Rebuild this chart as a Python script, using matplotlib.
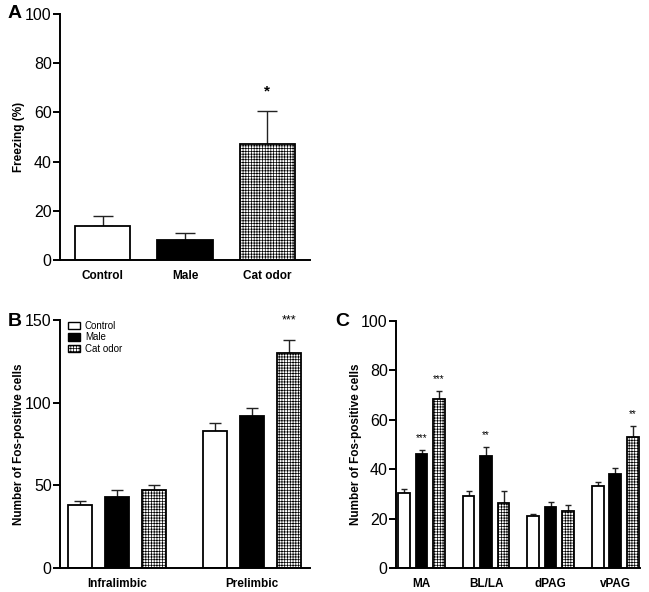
import matplotlib
matplotlib.use("Agg")
import matplotlib.pyplot as plt
import numpy as np
from matplotlib.patches import Patch

plt.rcParams['font.family'] = ['Liberation Sans', 'DejaVu Sans']
plt.rcParams['hatch.linewidth'] = 0.5
plt.rcParams['hatch.color'] = '#555555'

# Panel A
a_labels = ["Control", "Male", "Cat odor"]
a_vals = [14, 8, 47]
a_err = [3.8, 3.0, 13.5]
a_stars = ["", "", "*"]

# Panel B
b_groups = ["Infralimbic", "Prelimbic"]
b_control = [38, 83]
b_male = [43, 92]
b_cat = [47, 130]
b_control_err = [2.5, 4.5]
b_male_err = [4, 5]
b_cat_err = [3.5, 8]
b_stars_cat = ["", "***"]

# Panel C
c_groups = ["MA", "BL/LA", "dPAG", "vPAG"]
c_control = [30.5, 29, 21, 33]
c_male = [46, 45.5, 24.5, 38]
c_cat = [68.5, 26.5, 23, 53]
c_control_err = [1.6, 2.0, 1.0, 2.0]
c_male_err = [1.6, 3.6, 2.4, 2.3]
c_cat_err = [3.0, 4.6, 2.5, 4.5]
c_stars_male = ["***", "**", "", ""]
c_stars_cat = ["***", "", "", "**"]

legend_labels = ["Control", "Male", "Cat odor"]

styles = [dict(facecolor='white', edgecolor='black', hatch=None),
          dict(facecolor='black', edgecolor='black', hatch=None),
          dict(facecolor='white', edgecolor='black', hatch='++++++')]

fig = plt.figure(figsize=(6.49, 5.92), dpi=100)

def style_axes(ax):
    for s in ['top', 'right']:
        ax.spines[s].set_visible(False)
    for s in ['left', 'bottom']:
        ax.spines[s].set_linewidth(1.4)
    ax.tick_params(axis='y', direction='out', length=5, width=1.4, labelsize=11.5, pad=1)
    ax.tick_params(axis='x', length=0, labelsize=8.5, pad=7)
    for t in ax.get_xticklabels():
        t.set_fontweight('bold')
    ax.yaxis.set_label_coords(-0.14, 0.5)

def draw_bar(ax, x, v, e, w, st, capsize):
    ax.bar(x, v, width=w, linewidth=1.3, **st, zorder=2)
    ax.errorbar(x, v, yerr=[[0], [e]], fmt='none', ecolor='#222222', elinewidth=1.0,
                capsize=capsize, capthick=1.0, zorder=1)

# ---- A
axA = fig.add_axes([60/649, 1-260/592, 250/649, 246/592])
for i in range(3):
    draw_bar(axA, i, a_vals[i], a_err[i], 0.67, styles[i], 7)
    if a_stars[i]:
        axA.text(i, a_vals[i] + a_err[i] + 8, a_stars[i], ha='center', va='center', fontsize=11, fontweight='bold')
axA.set_xlim(-0.518, 2.518)
axA.set_ylim(0, 100)
axA.set_yticks([0, 20, 40, 60, 80, 100])
axA.set_xticks(range(3))
axA.set_xticklabels(a_labels)
axA.set_ylabel("Freezing (%)", fontsize=8.5, fontweight='bold')
style_axes(axA)
fig.text(8/649, 1-13/592, "A", fontsize=14, fontweight='bold', va='center')

# ---- B
axB = fig.add_axes([60/649, 1-568/592, 250/649, 248/592])
gsep = 3.66
series_b = [(b_control, b_control_err), (b_male, b_male_err), (b_cat, b_cat_err)]
for g in range(2):
    for k, (vals, errs) in enumerate(series_b):
        x = g*gsep + (k-1)
        draw_bar(axB, x, vals[g], errs[g], 0.65, styles[k], 4)
    if b_stars_cat[g]:
        axB.text(g*gsep + 1, b_cat[g] + b_cat_err[g] + 12, b_stars_cat[g], ha='center', va='center', fontsize=9)
axB.set_xlim(-1.54, 5.22)
axB.set_ylim(0, 150)
axB.set_yticks([0, 50, 100, 150])
axB.set_xticks([g*gsep for g in range(2)])
axB.set_xticklabels(b_groups)
axB.set_ylabel("Number of Fos-positive cells", fontsize=8.5, fontweight='bold')
style_axes(axB)
handles = [Patch(linewidth=1.0, **styles[k]) for k in range(3)]
axB.legend(handles, legend_labels, loc='upper left', bbox_to_anchor=(0.01, 1.02), frameon=False,
           fontsize=7, handlelength=1.2, handleheight=0.8, handletextpad=0.5, labelspacing=0.15,
           borderaxespad=0.2)
fig.text(8/649, 1-321/592, "B", fontsize=14, fontweight='bold', va='center')

# ---- C
axC = fig.add_axes([396/649, 1-568/592, 244/649, 247/592])
gsepc = 3.69
series_c = [(c_control, c_control_err, None), (c_male, c_male_err, c_stars_male), (c_cat, c_cat_err, c_stars_cat)]
for g in range(4):
    for k, (vals, errs, stars) in enumerate(series_c):
        x = g*gsepc + (k-1)
        draw_bar(axC, x, vals[g], errs[g], 0.67, styles[k], 2.5)
        if stars and stars[g]:
            axC.text(x, vals[g] + errs[g] + 4.8, stars[g], ha='center', va='center', fontsize=7)
axC.set_xlim(-1.46, 12.49)
axC.set_ylim(0, 100)
axC.set_yticks([0, 20, 40, 60, 80, 100])
axC.set_xticks([g*gsepc for g in range(4)])
axC.set_xticklabels(c_groups)
axC.set_ylabel("Number of Fos-positive cells", fontsize=8.5, fontweight='bold')
style_axes(axC)
fig.text(335/649, 1-321/592, "C", fontsize=14, fontweight='bold', va='center')

fig.savefig("out.png", dpi=100)
